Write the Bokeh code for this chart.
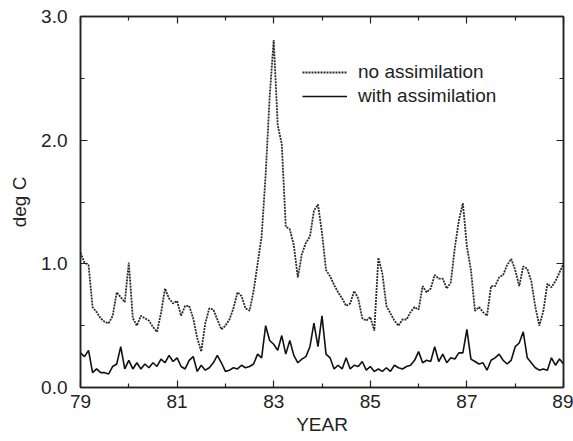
from bokeh.plotting import figure
from bokeh.models import (FixedTicker, LinearAxis, Legend, LegendItem,
                          PrintfTickFormatter, Range1d, CustomJSTickFormatter)
from bokeh.embed import file_html
from bokeh.resources import INLINE

# Monthly values, Jan 1979 .. Jan 1989 (deg C)
no_assimilation = [
    1.09, 1.01, 0.99, 0.65, 0.61, 0.56, 0.53, 0.52, 0.58, 0.77, 0.73, 0.69,
    1.01, 0.56, 0.50, 0.58, 0.56, 0.54, 0.49, 0.45, 0.60, 0.80, 0.72, 0.68,
    0.70, 0.58, 0.66, 0.66, 0.56, 0.40, 0.29, 0.52, 0.64, 0.63, 0.55, 0.47,
    0.50, 0.55, 0.64, 0.77, 0.74, 0.64, 0.62, 0.78, 1.00, 1.22, 1.72, 2.35,
    2.81, 2.12, 1.97, 1.30, 1.28, 1.15, 0.89, 1.08, 1.17, 1.22, 1.43, 1.48,
    1.25, 0.95, 0.90, 0.83, 0.77, 0.72, 0.66, 0.68, 0.78, 0.72, 0.56, 0.54,
    0.57, 0.46, 1.05, 0.92, 0.66, 0.60, 0.54, 0.50, 0.55, 0.55, 0.61, 0.65,
    0.63, 0.82, 0.77, 0.80, 0.91, 0.88, 0.88, 0.80, 0.85, 1.13, 1.35, 1.49,
    1.14, 0.95, 0.62, 0.65, 0.61, 0.58, 0.82, 0.82, 0.89, 0.91, 0.99, 1.04,
    0.95, 0.82, 0.98, 0.96, 0.86, 0.65, 0.50, 0.62, 0.84, 0.81, 0.86, 0.93,
    1.00,
]
with_assimilation = [
    0.28, 0.25, 0.30, 0.12, 0.15, 0.12, 0.12, 0.11, 0.17, 0.19, 0.33, 0.15,
    0.22, 0.15, 0.20, 0.15, 0.19, 0.16, 0.20, 0.17, 0.23, 0.20, 0.26, 0.21,
    0.24, 0.17, 0.15, 0.22, 0.25, 0.13, 0.18, 0.14, 0.16, 0.20, 0.26, 0.20,
    0.13, 0.14, 0.16, 0.15, 0.18, 0.16, 0.17, 0.19, 0.27, 0.24, 0.50, 0.38,
    0.35, 0.30, 0.42, 0.27, 0.38, 0.26, 0.20, 0.23, 0.25, 0.33, 0.52, 0.33,
    0.58, 0.27, 0.24, 0.15, 0.18, 0.15, 0.24, 0.15, 0.18, 0.17, 0.21, 0.14,
    0.17, 0.13, 0.15, 0.13, 0.16, 0.13, 0.18, 0.16, 0.15, 0.17, 0.18, 0.22,
    0.29, 0.20, 0.22, 0.21, 0.33, 0.21, 0.27, 0.20, 0.24, 0.23, 0.28, 0.28,
    0.47, 0.23, 0.21, 0.19, 0.20, 0.14, 0.22, 0.24, 0.27, 0.22, 0.19, 0.22,
    0.33, 0.36, 0.45, 0.24, 0.20, 0.16, 0.14, 0.15, 0.14, 0.24, 0.18, 0.23,
    0.19,
]
start_year = 79
years = [start_year + i / 12 for i in range(len(no_assimilation))]

x_major = [79, 81, 83, 85, 87, 89]
x_minor = [80, 82, 84, 86, 88]
y_major = [0.0, 1.0, 2.0, 3.0]
y_minor = [0.5, 1.5, 2.5]

FONT = "Liberation Sans"
TXT = "#222222"

p = figure(width=573, height=441, x_range=Range1d(79, 89), y_range=Range1d(0, 3),
           output_backend="svg", toolbar_location=None,
           min_border_left=80, min_border_right=10, min_border_top=16,
           min_border_bottom=54)
p.xgrid.visible = False
p.ygrid.visible = False
p.outline_line_color = "#222222"
p.outline_line_width = 1.5
p.background_fill_color = "white"
p.border_fill_color = "white"

r1 = p.line(years, no_assimilation, line_color="#2a2a2a", line_width=1.8,
            line_dash="2 1")
r2 = p.line(years, with_assimilation, line_color="#111111", line_width=1.6)


def style(ax, ticks, minor, show_labels):
    ax.ticker = FixedTicker(ticks=ticks, minor_ticks=minor)
    ax.axis_line_color = "#222222"
    ax.axis_line_width = 1.5
    ax.major_tick_in = 7
    ax.major_tick_out = 0
    ax.minor_tick_in = 4
    ax.minor_tick_out = 0
    ax.major_tick_line_color = "#222222"
    ax.minor_tick_line_color = "#222222"
    ax.major_tick_line_width = 1.2
    ax.minor_tick_line_width = 1.2
    if show_labels:
        ax.major_label_text_font = FONT
        ax.major_label_text_font_size = "19px"
        ax.major_label_text_color = TXT
        ax.axis_label_text_font = FONT
        ax.axis_label_text_font_style = "normal"
        ax.axis_label_text_color = TXT
    else:
        ax.formatter = CustomJSTickFormatter(code="return ''")
        ax.major_label_standoff = 0


xa = p.xaxis[0]
style(xa, x_major, x_minor, True)
xa.axis_label = "YEAR"
xa.axis_label_text_font_size = "19px"
xa.major_label_standoff = 7
xa.axis_label_standoff = 3

ya = p.yaxis[0]
style(ya, y_major, y_minor, True)
ya.formatter = PrintfTickFormatter(format="%.1f")
ya.axis_label = "deg C"
ya.axis_label_text_font_size = "19px"
ya.major_label_standoff = 13
ya.axis_label_standoff = 8

top = LinearAxis()
style(top, x_major, x_minor, False)
p.add_layout(top, "above")
right = LinearAxis()
style(right, y_major, y_minor, False)
p.add_layout(right, "right")

legend = Legend(items=[LegendItem(label="no assimilation", renderers=[r1]),
                       LegendItem(label="with assimilation", renderers=[r2])],
                location=(222, 280), glyph_width=45, glyph_height=22,
                label_height=22, spacing=2, padding=0, margin=0,
                border_line_color=None, background_fill_alpha=0,
                label_text_font=FONT, label_text_font_size="19px",
                label_text_color=TXT, label_standoff=11)
p.add_layout(legend)

open("out.html", "w").write(file_html(p, INLINE))
